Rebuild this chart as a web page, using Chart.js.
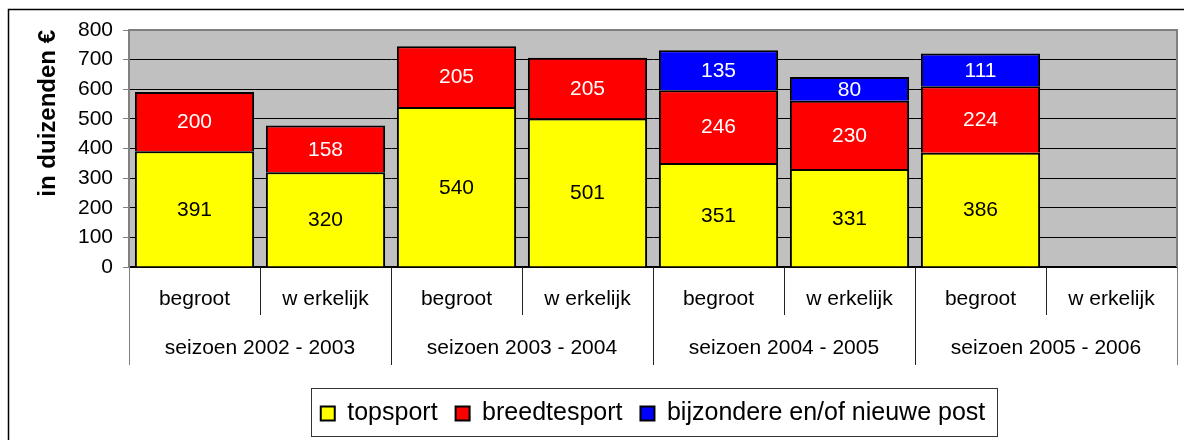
<!DOCTYPE html>
<html>
<head>
<meta charset="utf-8">
<title>begroot / werkelijk</title>
<script src="https://cdn.jsdelivr.net/npm/chart.js@4.4.1/dist/chart.umd.min.js"></script>
<style>
  body { margin: 0; background: #fff; }
  #wrap { width: 1184px; height: 440px; }
</style>
</head>
<body>
<div id="wrap">
  <canvas id="budgetChart" width="1184" height="440"></canvas>
</div>
<script>
// datos del grafico
const seizoenen = ['seizoen 2002 - 2003', 'seizoen 2003 - 2004', 'seizoen 2004 - 2005', 'seizoen 2005 - 2006'];
const soorten = ['begroot', 'w erkelijk', 'begroot', 'w erkelijk', 'begroot', 'w erkelijk', 'begroot', 'w erkelijk'];
const topsport = [391, 320, 540, 501, 351, 331, 386, null];
const breedtesport = [200, 158, 205, 205, 246, 230, 224, null];
const bijzondere = [null, null, null, null, 135, 80, 111, null];
const yTicks = [0, 100, 200, 300, 400, 500, 600, 700, 800];

const fuente = '"Liberation Sans", Arial, sans-serif';
Chart.defaults.font.family = fuente;
Chart.defaults.color = '#000';

// fondo gris del area y marco exterior
const fondoPlugin = {
  id: 'fondo',
  beforeDraw(chart) {
    const ctx = chart.ctx;
    const a = chart.chartArea;
    ctx.save();
    ctx.fillStyle = '#fff';
    ctx.fillRect(0, 0, chart.width, chart.height);
    ctx.strokeStyle = '#000';
    ctx.lineWidth = 1.5;
    ctx.strokeRect(8.5, 9.5, chart.width + 20, chart.height + 20);
    ctx.fillStyle = '#c0c0c0';
    ctx.fillRect(a.left, a.top, a.right - a.left, a.bottom - a.top);
    ctx.restore();
  },
  beforeDatasetsDraw(chart) {
    const ctx = chart.ctx;
    const a = chart.chartArea;
    ctx.save();
    ctx.strokeStyle = '#808080';
    ctx.lineWidth = 2;
    ctx.beginPath();
    ctx.moveTo(a.left, a.top);
    ctx.lineTo(a.right, a.top);
    ctx.lineTo(a.right, a.bottom);
    ctx.stroke();
    ctx.restore();
  }
};

// numeros dentro de cada segmento
const etiquetasPlugin = {
  id: 'etiquetas',
  afterDatasetsDraw(chart) {
    const ctx = chart.ctx;
    const colores = ['#000', '#fff', '#fff'];
    ctx.save();
    ctx.font = '21px ' + fuente;
    ctx.textAlign = 'center';
    ctx.textBaseline = 'middle';
    chart.data.datasets.forEach(function(ds, i) {
      const meta = chart.getDatasetMeta(i);
      meta.data.forEach(function(bar, j) {
        const v = ds.data[j];
        if (v === null || v === undefined) return;
        ctx.fillStyle = colores[i];
        ctx.fillText(String(v), bar.x, (bar.y + bar.base) / 2 + 1);
      });
    });
    ctx.restore();
  }
};

// lineas divisorias y fila de seizoenen bajo el eje x
const ejeXPlugin = {
  id: 'ejeX',
  afterDraw(chart) {
    const ctx = chart.ctx;
    const x = chart.scales.x;
    const a = chart.chartArea;
    const ancho = (a.right - a.left) / soorten.length;
    ctx.save();
    ctx.lineWidth = 1;
    for (let i = 0; i <= soorten.length; i++) {
      let px;
      if (i < soorten.length) {
        px = x.getPixelForValue(i) - ancho / 2;
      } else {
        px = a.right;
      }
      px = Math.round(px) + 0.5;
      const largo = (i % 2 === 0) ? 98 : 48;
      ctx.strokeStyle = (i === 0 || i === soorten.length) ? '#808080' : '#222';
      ctx.beginPath();
      ctx.moveTo(px, a.bottom);
      ctx.lineTo(px, a.bottom + largo);
      ctx.stroke();
    }
    ctx.font = '21px ' + fuente;
    ctx.fillStyle = '#000';
    ctx.textAlign = 'center';
    ctx.textBaseline = 'middle';
    seizoenen.forEach(function(s, k) {
      const cx = (x.getPixelForValue(2 * k) + x.getPixelForValue(2 * k + 1)) / 2;
      ctx.fillText(s, cx, a.bottom + 81);
    });

    // marco de la leyenda
    const leg = chart.legend;
    if (leg && leg.legendHitBoxes.length) {
      const hb = leg.legendHitBoxes;
      const izq = hb[0].left - 10;
      const last = hb[hb.length - 1];
      const der = last.left + last.width + 12;
      ctx.strokeStyle = '#333';
      ctx.lineWidth = 1;
      ctx.strokeRect(Math.round(izq) + 0.5, Math.round(hb[0].top - 13) + 0.5,
                     Math.round(der - izq), Math.round(hb[0].height + 23));
    }
    ctx.restore();
  }
};

const ctx = document.getElementById('budgetChart');

new Chart(ctx, {
  type: 'bar',
  data: {
    labels: soorten,
    datasets: [{
      label: 'topsport',
      data: topsport,
      backgroundColor: '#ffff00',
      borderColor: '#000',
      borderWidth: 2
    }, {
      label: 'breedtesport',
      data: breedtesport,
      backgroundColor: '#ff0000',
      borderColor: '#000',
      borderWidth: 2
    }, {
      label: 'bijzondere en/of nieuwe post',
      data: bijzondere,
      backgroundColor: '#0000ff',
      borderColor: '#000',
      borderWidth: 2
    }]
  },
  options: {
    responsive: false,
    animation: false,
    layout: {
      padding: { top: 30, right: 7, bottom: 4, left: 34 }
    },
    categoryPercentage: 1,
    barPercentage: 0.91,
    plugins: {
      legend: {
        position: 'bottom',
        fullSize: false,
        labels: {
          boxWidth: 14,
          boxHeight: 14,
          padding: 18,
          color: '#000',
          font: { size: 25 }
        }
      },
      tooltip: { enabled: false }
    },
    scales: {
      x: {
        stacked: true,
        grid: { display: false, drawTicks: false },
        border: { display: true, color: '#000', width: 2 },
        ticks: { font: { size: 21 }, color: '#000', padding: 20, maxRotation: 0, autoSkip: false },
        afterFit: function(scale) { scale.height = 116; }
      },
      y: {
        stacked: true,
        min: yTicks[0],
        max: yTicks[yTicks.length - 1],
        afterBuildTicks: function(scale) {
          scale.ticks = yTicks.map(function(v) { return { value: v }; });
        },
        grid: {
          color: function(c) { return c.tick && c.tick.value === 800 ? 'rgba(0,0,0,0)' : '#000'; },
          tickColor: '#808080',
          tickLength: 6,
          lineWidth: 1
        },
        border: { display: true, color: '#808080', width: 2 },
        ticks: { font: { size: 21 }, color: '#000', padding: 10 },
        title: {
          display: true,
          text: 'in duizenden €',
          align: 'end',
          color: '#000',
          font: { size: 24, weight: 'bold' },
          padding: 0
        },
        afterFit: function(scale) { scale.width = 95; }
      }
    }
  },
  plugins: [fondoPlugin, etiquetasPlugin, ejeXPlugin]
});
</script>
</body>
</html>
